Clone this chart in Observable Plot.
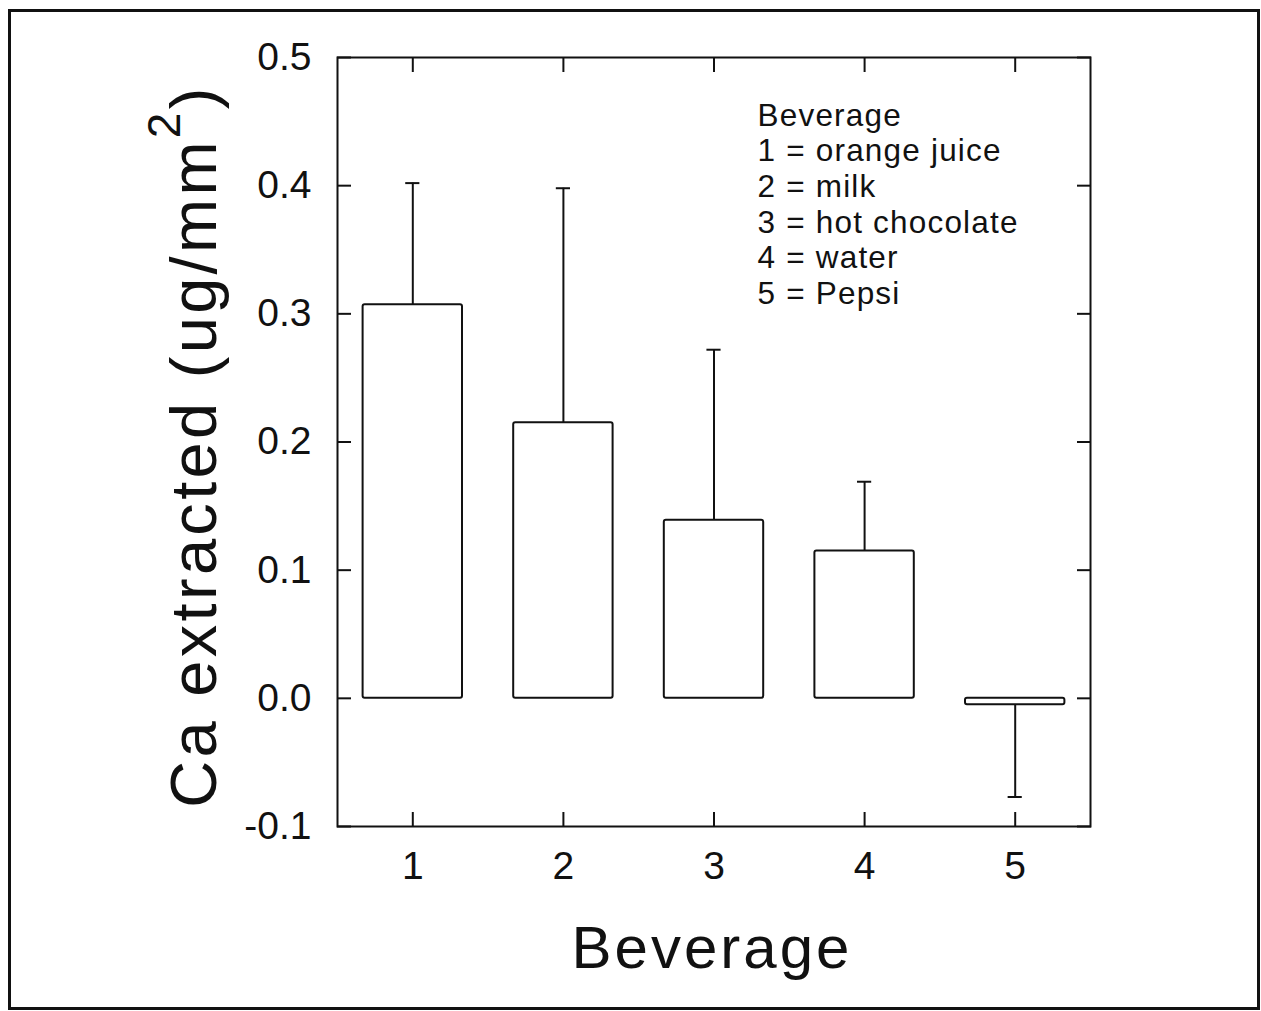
<!DOCTYPE html>
<html>
<head>
<meta charset="utf-8">
<script src="https://cdn.jsdelivr.net/npm/d3@7"></script>
<script src="https://cdn.jsdelivr.net/npm/@observablehq/plot@0.6"></script>
<style>
  html, body { margin: 0; padding: 0; background: #fff; }
  #wrap { position: relative; width: 1261px; height: 1011px; }
  #border { position: absolute; left: 8px; top: 9px; width: 1252px; height: 1001px; box-sizing: border-box; border: 3px solid #111; pointer-events: none; }
  text[aria-label="legend"] { letter-spacing: 1.2px; }
  text[aria-label="xtitle"] { letter-spacing: 3px; }
  text[aria-label="ytitle"] { letter-spacing: 3.3px; }
</style>
</head>
<body>
<div id="wrap"><div id="border"></div></div>
<script>
// Data
const beverageCodes = [1, 2, 3, 4, 5];
const beverageNames = ["orange juice", "milk", "hot chocolate", "water", "Pepsi"];
const meanCa = [0.307, 0.215, 0.139, 0.115, -0.005];
const errCa = [0.095, 0.183, 0.133, 0.054, 0.072];
const xTickValues = [1, 2, 3, 4, 5];
const yTickValues = [-0.1, 0.0, 0.1, 0.2, 0.3, 0.4, 0.5];
const legendLines = ["Beverage"].concat(beverageCodes.map((c, i) => `${c} = ${beverageNames[i]}`));

const data = beverageCodes.map((c, i) => ({
  code: c,
  mean: meanCa[i],
  end: meanCa[i] + (meanCa[i] < 0 ? -errCa[i] : errCa[i])
}));

const halfBar = 0.33;
const halfCap = 0.047;
const ink = "#111";

const chart = Plot.plot({
  width: 1261,
  height: 1011,
  marginLeft: 337,
  marginRight: 171,
  marginTop: 57,
  marginBottom: 185,
  style: { fontFamily: "'Liberation Sans', Arial, Helvetica, sans-serif", background: "white", color: ink },
  x: { type: "linear", domain: [0.5, 5.5] },
  y: { domain: [-0.1, 0.5] },
  marks: [
    Plot.ruleX(data, { x: "code", y1: "mean", y2: "end", stroke: ink, strokeWidth: 2 }),
    Plot.ruleY(data, { y: "end", x1: d => d.code - halfCap, x2: d => d.code + halfCap, stroke: ink, strokeWidth: 2 }),
    Plot.rect(data, { x1: d => d.code - halfBar, x2: d => d.code + halfBar, y1: 0, y2: "mean", fill: "white", stroke: ink, strokeWidth: 2, rx: 2 }),
    Plot.frame({ stroke: ink, strokeWidth: 2 }),
    Plot.axisX({ ticks: xTickValues, anchor: "bottom", tickSize: -14, tickPadding: 39, fontSize: 39, label: null, tickFormat: d => String(d), strokeWidth: 2 }),
    Plot.axisX({ ticks: xTickValues, anchor: "top", tickSize: -14, tickFormat: () => "", label: null, strokeWidth: 2 }),
    Plot.axisY({ ticks: yTickValues, anchor: "left", tickSize: -14, tickPadding: 40, fontSize: 39, label: null, tickFormat: d => d.toFixed(1), strokeWidth: 2 }),
    Plot.axisY({ ticks: yTickValues, anchor: "right", tickSize: -14, tickFormat: () => "", label: null, strokeWidth: 2 }),
    Plot.text(["Beverage"], { frameAnchor: "bottom", text: d => d, lineAnchor: "bottom", dy: 141, dx: -2, fontSize: 60, fill: ink, ariaLabel: () => "xtitle" }),
    Plot.text(["Ca extracted (ug/mm2)"], { frameAnchor: "left", text: d => d, rotate: -90, textAnchor: "middle", lineAnchor: "bottom", dx: -122, dy: 4, fontSize: 65, fill: ink, ariaLabel: () => "ytitle" }),
    Plot.text([legendLines.join("\n")], { frameAnchor: "top-left", text: d => d, textAnchor: "start", lineAnchor: "top", lineHeight: 1.13, dx: 420, dy: 43, fontSize: 31.5, fill: ink, ariaLabel: () => "legend" })
  ]
});

document.getElementById("wrap").insertBefore(chart, document.getElementById("border"));

// Superscript the "2" in the y-axis title
const yt = d3.select(chart).select('text[aria-label="ytitle"]');
yt.text(null);
yt.append("tspan").text("Ca extracted (ug/mm");
yt.append("tspan").attr("font-size", 46).attr("dy", -36).text("2");
yt.append("tspan").attr("dy", 36).text(")");
</script>
</body>
</html>
